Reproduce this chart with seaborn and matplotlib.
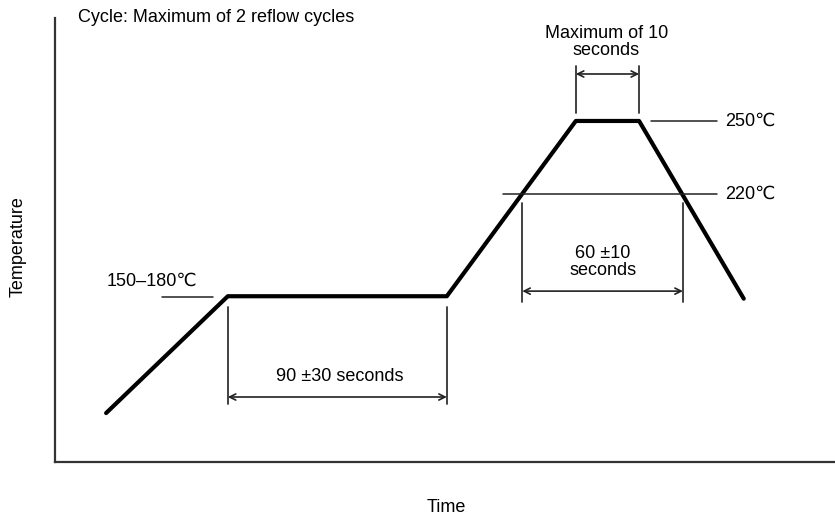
import numpy as np
import pandas as pd
import matplotlib
matplotlib.use("Agg")
import matplotlib.pyplot as plt
import seaborn as sns

# Reflow profile (schematic), time in s, temperature in degC
profile_time = [21, 71, 161, 214, 240, 283]
profile_temp = [130, 178, 178, 250, 250, 177]

# reference temperature lines
ref_temps = [250, 220]
ref_labels = ["250\u2103", "220\u2103"]
ref_start = [245, 184]
ref_end = 272
soak_mark_temp = 177.5
soak_mark_span = [44, 65]
soak_label = "150\u2013180\u2103"

# timing windows: (start, end)
soak_window = (71, 161)
reflow_window = (192, 258)
peak_window = (214, 240)

df = pd.DataFrame({"Time": profile_time, "Temperature": profile_temp})

sns.set_style("white")
plt.rcParams["font.family"] = ["Liberation Sans", "DejaVu Sans"]
plt.rcParams["text.color"] = "black"

fig = plt.figure(figsize=(8.35, 5.17), dpi=100)
ax = fig.add_axes([55 / 835, 55 / 517, 780 / 835, 444 / 517])

sns.lineplot(data=df, x="Time", y="Temperature", ax=ax, color="black",
             linewidth=3.0, solid_capstyle="round", solid_joinstyle="round")

ax.set_xlim(0, 320.5)
ax.set_ylim(109.9, 292.3)

line_kw = dict(color="#222222", linewidth=1.1)
ext_kw = dict(color="#333333", linewidth=1.3)
fs = 13

# reference lines + labels
for temp, lab, x0 in zip(ref_temps, ref_labels, ref_start):
    ax.plot([x0, ref_end], [temp, temp], **line_kw)
    ax.text(ref_end + 3.5, temp, lab, fontsize=fs, va="center", ha="left")
ax.plot(soak_mark_span, [soak_mark_temp, soak_mark_temp], **line_kw)
ax.text(40, 184, soak_label, fontsize=fs, va="center", ha="center")


def window(ax, span, y_lo, y_hi, y_arrow):
    for x in span:
        ax.plot([x, x], [y_lo, y_hi], **ext_kw)
    ax.annotate("", xy=(span[1], y_arrow), xytext=(span[0], y_arrow),
                arrowprops=dict(arrowstyle="<->", color="#222222", lw=1.2,
                                shrinkA=0, shrinkB=0, mutation_scale=11))


window(ax, soak_window, 133.7, 173.6, 136.6)
ax.text(117, 145, "90 \u00b130 seconds", fontsize=fs, ha="center", va="center")

window(ax, reflow_window, 175.6, 216.3, 180.1)
ax.text(225, 192, "60 \u00b110\nseconds", fontsize=fs, ha="center", va="center",
        linespacing=1.05)

window(ax, peak_window, 253.3, 272.6, 269.3)
ax.text(226.5, 282.5, "Maximum of 10\nseconds", fontsize=fs, ha="center",
        va="center", linespacing=1.05)

# axes styling
for s in ["top", "right"]:
    ax.spines[s].set_visible(False)
for s in ["left", "bottom"]:
    ax.spines[s].set_linewidth(1.6)
    ax.spines[s].set_color("#333333")
ax.set_xticks([])
ax.set_yticks([])
ax.set_xlabel("")
ax.set_ylabel("")

fig.text(78 / 835, 1 - 17 / 517, "Cycle: Maximum of 2 reflow cycles",
         fontsize=fs, ha="left", va="center")
fig.text(18 / 835, 1 - 247 / 517, "Temperature", fontsize=fs, rotation=90,
         ha="center", va="center")
fig.text(446 / 835, 1 - 507 / 517, "Time", fontsize=fs, ha="center", va="center")

fig.savefig("out.png", dpi=100)
